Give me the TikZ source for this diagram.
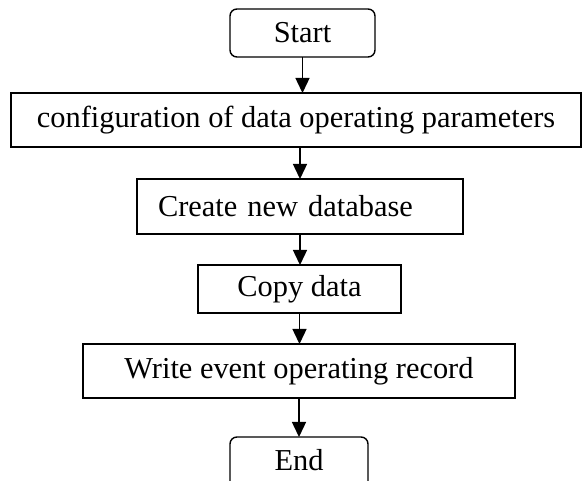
\documentclass[tikz,border=0pt]{standalone}
\usepackage{fontspec}
\setmainfont{Liberation Serif}
\usetikzlibrary{arrows.meta}
\begin{document}
\begin{tikzpicture}[x=1pt,y=-1pt,
  box/.style={draw, line width=1.4pt, font=\fontsize{30.4}{36}\selectfont, inner sep=0pt, outer sep=0pt},
  rbox/.style={box, rounded corners=7pt},
  arr/.style={line width=1.4pt, -{Triangle[length=15pt,width=14pt]}}]
\useasboundingbox (0,0) rectangle (582,481);
\clip (0,0) rectangle (582,481);
\node[rbox, minimum width=145pt, minimum height=48pt] (start) at (302.5,33) {Start};
\node[box, minimum width=570pt, minimum height=54pt] (config) at (296,120) {configuration of data operating parameters};
\node[box, minimum width=326pt, minimum height=55pt, text width=284pt, align=left] (create) at (300,206.5) {Create new database};
\node[box, minimum width=203pt, minimum height=48pt] (copy) at (299.5,289) {Copy data};
\node[box, minimum width=432pt, minimum height=54pt] (write) at (299,371) {Write event operating record};
\node[rbox, minimum width=138pt, minimum height=70pt] (stop) at (299,472) {};
\node[font=\fontsize{30.4}{36}\selectfont, inner sep=0pt] (stoplabel) at (299,460) {End};
\draw[arr] (start.south) -- (start.south |- config.north);
\draw[arr] (create.north |- config.south) -- (create.north);
\draw[arr] (create.south) -- (create.south |- copy.north);
\draw[arr] (copy.south) -- (copy.south |- write.north);
\draw[arr] (write.south) -- (write.south |- stop.north);
\end{tikzpicture}
\end{document}
